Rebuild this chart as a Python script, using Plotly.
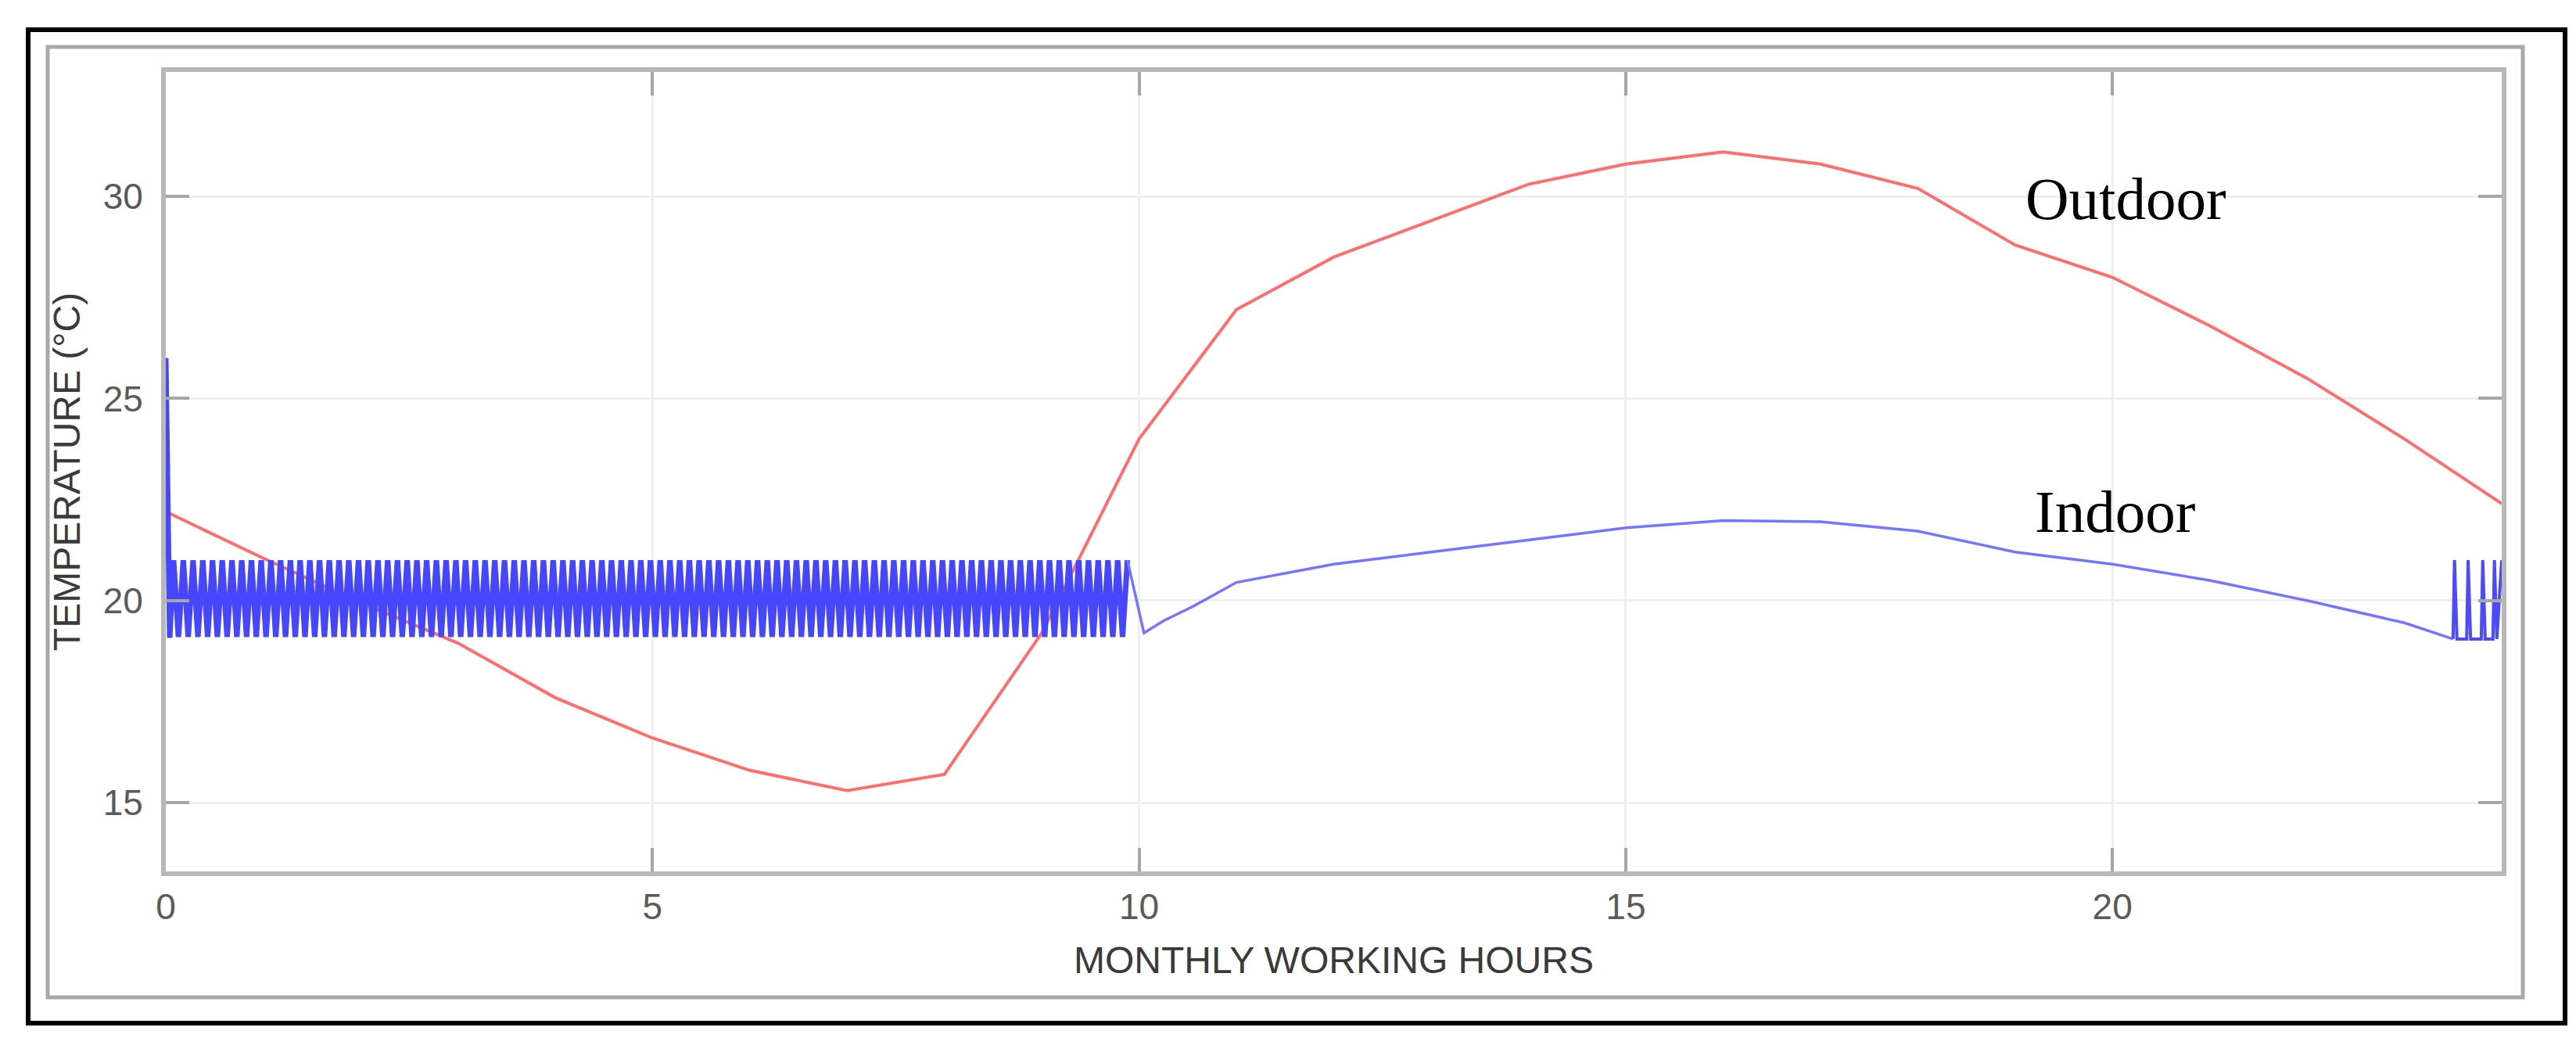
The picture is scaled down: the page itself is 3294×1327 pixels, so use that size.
"""Indoor vs outdoor temperature over the monthly working hours."""

import plotly.graph_objects as go

# ---- data ----
hours = [0, 1, 2, 3, 4, 5, 6, 7, 8, 9, 10, 11, 12,
         13, 14, 15, 16, 17, 18, 19, 20, 21, 22, 23, 24]
outdoor_temp = [22.2, 21.05, 19.95, 18.95, 17.6, 16.6, 15.8, 15.3, 15.7, 19.2, 24.0, 27.2, 28.5,
                29.4, 30.3, 30.8, 31.1, 30.8, 30.2, 28.8, 28.0, 26.8, 25.5, 24.0, 22.4]

# indoor: initial drop from the start value
indoor_start_h = [0.0, 0.04]
indoor_start_t = [26.0, 19.08]

# thermostat band (heating on/off) between the two limits
band_high = 21.0
band_low = 19.1
band_peak_h = [
    0.08, 0.18, 0.28, 0.38, 0.48, 0.58, 0.68, 0.78, 0.88, 0.98,
    1.08, 1.18, 1.28, 1.38, 1.48, 1.58, 1.68, 1.78, 1.88, 1.98,
    2.08, 2.18, 2.28, 2.38, 2.48, 2.58, 2.68, 2.78, 2.88, 2.98,
    3.08, 3.18, 3.28, 3.38, 3.48, 3.58, 3.68, 3.78, 3.88, 3.98,
    4.08, 4.18, 4.28, 4.38, 4.48, 4.58, 4.68, 4.78, 4.88, 4.98,
    5.08, 5.18, 5.28, 5.38, 5.48, 5.58, 5.68, 5.78, 5.88, 5.98,
    6.08, 6.18, 6.28, 6.38, 6.48, 6.58, 6.68, 6.78, 6.88, 6.98,
    7.08, 7.18, 7.28, 7.38, 7.48, 7.58, 7.68, 7.78, 7.88, 7.98,
    8.08, 8.18, 8.28, 8.38, 8.48, 8.58, 8.68, 8.78, 8.88, 8.98,
    9.08, 9.18, 9.28, 9.38, 9.48, 9.58, 9.68, 9.78, 9.88,
]
band_trough_h = [
    0.13, 0.23, 0.33, 0.43, 0.53, 0.63, 0.73, 0.83, 0.93,
    1.03, 1.13, 1.23, 1.33, 1.43, 1.53, 1.63, 1.73, 1.83, 1.93,
    2.03, 2.13, 2.23, 2.33, 2.43, 2.53, 2.63, 2.73, 2.83, 2.93,
    3.03, 3.13, 3.23, 3.33, 3.43, 3.53, 3.63, 3.73, 3.83, 3.93,
    4.03, 4.13, 4.23, 4.33, 4.43, 4.53, 4.63, 4.73, 4.83, 4.93,
    5.03, 5.13, 5.23, 5.33, 5.43, 5.53, 5.63, 5.73, 5.83, 5.93,
    6.03, 6.13, 6.23, 6.33, 6.43, 6.53, 6.63, 6.73, 6.83, 6.93,
    7.03, 7.13, 7.23, 7.33, 7.43, 7.53, 7.63, 7.73, 7.83, 7.93,
    8.03, 8.13, 8.23, 8.33, 8.43, 8.53, 8.63, 8.73, 8.83, 8.93,
    9.03, 9.13, 9.23, 9.33, 9.43, 9.53, 9.63, 9.73, 9.83,
]

# indoor: free-floating part (no heating needed)
indoor_free_h = [9.88, 10.05, 10.25, 10.55, 11, 12, 13, 14, 15, 16, 17, 18, 19, 20, 21, 22, 23, 23.5]
indoor_free_t = [21.0, 19.2, 19.5, 19.85, 20.45, 20.9, 21.2, 21.5, 21.8, 21.98, 21.95, 21.72,
                 21.2, 20.9, 20.5, 20.0, 19.45, 19.05]

# indoor: heating cycles again at the end of the day
indoor_end_h = [23.5, 23.515, 23.54, 23.64, 23.655, 23.68, 23.79, 23.805, 23.83,
                23.91, 23.925, 23.95, 24.0]
indoor_end_t = [19.05, 21.0, 19.05, 19.05, 21.0, 19.05, 19.05, 21.0, 19.05,
                19.05, 21.0, 19.05, 21.0]

x_ticks = [0, 5, 10, 15, 20]
y_ticks = [15, 20, 25, 30]

# ---- figure geometry (pixels) ----
W, H = 3294, 1327
PL, PR, PT, PB = 204, 3191, 84, 1106


def px_x(px):
    return (px - PL) / (PR - PL)


def px_y(py):
    return (PB - py) / (PB - PT)


# merge the band turning points into one zigzag
band = sorted([(h, band_high) for h in band_peak_h] + [(h, band_low) for h in band_trough_h])
band_h = indoor_start_h + [p[0] for p in band]
band_t = indoor_start_t + [p[1] for p in band]

fig = go.Figure()
fig.add_trace(go.Scatter(x=hours, y=outdoor_temp, mode="lines", name="Outdoor",
                         line=dict(color="#ff6e6e", width=4)))
fig.add_trace(go.Scatter(x=band_h, y=band_t, mode="lines", name="Indoor",
                         line=dict(color="#4646ff", width=7, simplify=False)))
fig.add_trace(go.Scatter(x=indoor_free_h, y=indoor_free_t, mode="lines", name="Indoor",
                         line=dict(color="#7575ff", width=3.5)))
fig.add_trace(go.Scatter(x=indoor_end_h, y=indoor_end_t, mode="lines", name="Indoor",
                         line=dict(color="#4a4aff", width=4, simplify=False)))

axis_common = dict(
    automargin=False,
    showgrid=True, gridcolor="#efefef", gridwidth=3,
    zeroline=False, showline=True, linecolor="#b8b8b8", linewidth=6,
    mirror="ticks", ticks="inside", ticklen=30, tickwidth=4, tickcolor="#a6a6a6",
    tickfont=dict(family="Liberation Sans, Arial", size=46, color="#5a5a5a"),
)

fig.update_layout(
    template="none",
    width=W, height=H,
    margin=dict(l=PL, r=W - PR, t=PT, b=H - PB),
    paper_bgcolor="white", plot_bgcolor="white",
    showlegend=False,
    xaxis=dict(range=[0, 24], tickvals=x_ticks, ticklabelstandoff=0,
               title=dict(text="MONTHLY WORKING HOURS", standoff=28,
                          font=dict(family="Liberation Sans, Arial", size=48, color="#3a3a3a")),
               **axis_common),
    yaxis=dict(range=[13.3, 33.08], tickvals=y_ticks, ticklabelstandoff=14,
               title=dict(text="TEMPERATURE (°C)", standoff=16,
                          font=dict(family="Liberation Sans, Arial", size=48, color="#3a3a3a")),
               **axis_common),
)

# curve labels
label_font = dict(family="Liberation Serif, Times New Roman, serif", size=77, color="black")
fig.add_annotation(x=19.09, y=29.95, text="Outdoor", showarrow=False,
                   xanchor="left", yanchor="middle", font=label_font)
fig.add_annotation(x=19.19, y=22.2, text="Indoor", showarrow=False,
                   xanchor="left", yanchor="middle", font=label_font)

# outer frames around the figure
fig.add_shape(type="rect", xref="paper", yref="paper",
              x0=px_x(53), x1=px_x(3218), y0=px_y(1267), y1=px_y(52),
              line=dict(color="#a9a9a9", width=5))
fig.add_shape(type="rect", xref="paper", yref="paper",
              x0=px_x(28), x1=px_x(3272), y0=px_y(1300), y1=px_y(30),
              line=dict(color="black", width=6))

fig.write_html("out.html", config={"displayModeBar": False})
